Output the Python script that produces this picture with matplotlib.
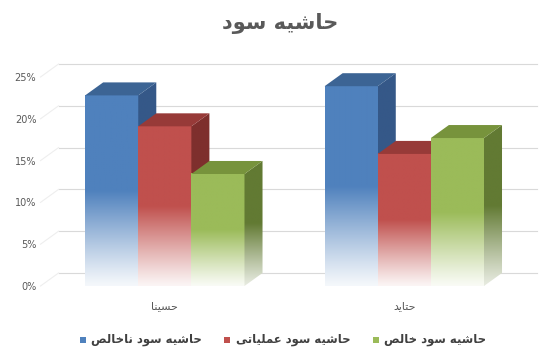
import numpy as np
import matplotlib
matplotlib.use("Agg")
from matplotlib import pyplot as plt
from matplotlib.patches import Polygon, Rectangle

# data
companies = ["حسینا", "حتاید"]
series_names = ["حاشیه سود ناخالص", "حاشیه سود عملیاتی", "حاشیه سود خالص"]
gross = [22.8, 23.9]
operating = [19.1, 15.8]
net = [13.4, 17.7]
title = "حاشیه سود"
yticks = [0, 5, 10, 15, 20, 25]

front_cols = ["#4f81bd", "#c0504d", "#9bbb59"]
top_cols = ["#3c6494", "#973a38", "#77933c"]
side_cols = ["#355888", "#7e2f2d", "#627a33"]

# arabic presentation forms: isolated, final, initial, medial
FORMS = {
    "ا": ("\uFE8D", "\uFE8E", None, None),
    "د": ("\uFEA9", "\uFEAA", None, None),
    "و": ("\uFEED", "\uFEEE", None, None),
    "ت": ("\uFE95", "\uFE96", "\uFE97", "\uFE98"),
    "ح": ("\uFEA1", "\uFEA2", "\uFEA3", "\uFEA4"),
    "خ": ("\uFEA5", "\uFEA6", "\uFEA7", "\uFEA8"),
    "س": ("\uFEB1", "\uFEB2", "\uFEB3", "\uFEB4"),
    "ش": ("\uFEB5", "\uFEB6", "\uFEB7", "\uFEB8"),
    "ص": ("\uFEB9", "\uFEBA", "\uFEBB", "\uFEBC"),
    "ع": ("\uFEC9", "\uFECA", "\uFECB", "\uFECC"),
    "ل": ("\uFEDD", "\uFEDE", "\uFEDF", "\uFEE0"),
    "م": ("\uFEE1", "\uFEE2", "\uFEE3", "\uFEE4"),
    "ن": ("\uFEE5", "\uFEE6", "\uFEE7", "\uFEE8"),
    "ه": ("\uFEE9", "\uFEEA", "\uFEEB", "\uFEEC"),
    "ی": ("\uFBFC", "\uFBFD", "\uFBFE", "\uFBFF"),
}


def shape(text):
    out = []
    for word in text.split(" "):
        res = ""
        for i, ch in enumerate(word):
            f = FORMS.get(ch)
            if f is None:
                res += ch
                continue
            prev = word[i - 1] if i > 0 else None
            nxt = word[i + 1] if i + 1 < len(word) else None
            jp = prev in FORMS and FORMS[prev][2] is not None
            jn = f[2] is not None and nxt in FORMS
            if jp and jn:
                res += f[3]
            elif jp:
                res += f[1]
            elif jn:
                res += f[2]
            else:
                res += f[0]
        out.append(res)
    return " ".join(out)[::-1]


def fade(color, n=100, floor=0.06):
    c = np.array(matplotlib.colors.to_rgb(color))
    t = np.linspace(0, 1, n)  # 0 bottom -> 1 top
    k = np.clip(t / 0.5, 0, 1) ** 1.1 * (1 - floor) + floor
    img = k[:, None] * c[None, :] + (1 - k[:, None]) * np.ones(3)[None, :]
    return img[:, None, :]


fig = plt.figure(figsize=(5.46, 3.54), dpi=100)
ax = fig.add_axes([0.0742, 0.1921, 0.8755, 0.6376])
xlim = (-0.519, 1.477)

dx, dy = 0.0753, 1.555
for v in yticks:
    ax.plot([xlim[0] + dx, xlim[1] + dx], [v + dy, v + dy], color="#d9d9d9", lw=0.8,
            zorder=0, clip_on=False)
    ax.plot([xlim[0], xlim[0] + dx], [v, v + dy], color="#eeeeee", lw=0.8,
            zorder=0, clip_on=False)

values = [gross, operating, net]
w = 0.2218
x = np.arange(len(companies))
z = 1
for ci in range(len(companies)):
    for si in range(3):
        x0 = x[ci] - 1.5 * w + si * w
        h = values[si][ci]
        # front face
        ax.imshow(fade(front_cols[si]), extent=[x0, x0 + w, 0, h],
                  origin="lower", aspect="auto", zorder=z,
                  interpolation="bilinear")
        # side face
        side = Polygon([[x0 + w, 0], [x0 + w + dx, dy], [x0 + w + dx, h + dy],
                        [x0 + w, h]], closed=True, facecolor="none",
                       edgecolor="none")
        ax.add_patch(side)
        im2 = ax.imshow(fade(side_cols[si], floor=0.15),
                        extent=[x0 + w, x0 + w + dx, 0, h + dy],
                        origin="lower", aspect="auto", zorder=z,
                        interpolation="bilinear")
        im2.set_clip_path(side)
        # top face
        ax.add_patch(Polygon([[x0, h], [x0 + dx, h + dy], [x0 + w + dx, h + dy],
                              [x0 + w, h]], closed=True,
                             facecolor=top_cols[si], edgecolor="none", zorder=z))
        z += 1

ax.set_xlim(*xlim)
ax.set_ylim(0, 27)
ax.set_yticks(yticks, [f"{v}%" for v in yticks])
ax.set_xticks([])
ax.tick_params(axis="y", length=0, pad=3, labelsize=7, labelcolor="#595959")
for s in ax.spines.values():
    s.set_visible(False)

for ci, name in enumerate(companies):
    ax.text(x[ci], -2.4, shape(name), ha="center", va="center", fontsize=8,
            color="#595959")

fig.text(0.513, 1 - 23 / 354, shape(title), ha="center", va="center",
         fontsize=15, fontweight="bold", color="#595959")

# legend
sq_x = [80, 224, 373]
tx_x = [91, 236, 384]
ly = 340
for si in range(3):
    fig.patches.append(Rectangle((sq_x[si] / 546, 1 - (ly + 3) / 354), 6 / 546, 6 / 354,
                                 transform=fig.transFigure,
                                 facecolor=front_cols[si], edgecolor="none"))
    fig.text(tx_x[si] / 546, 1 - ly / 354, shape(series_names[si]), ha="left",
             va="center", fontsize=8.4, fontweight="bold", color="#404040")

fig.savefig("out.png", dpi=100)
